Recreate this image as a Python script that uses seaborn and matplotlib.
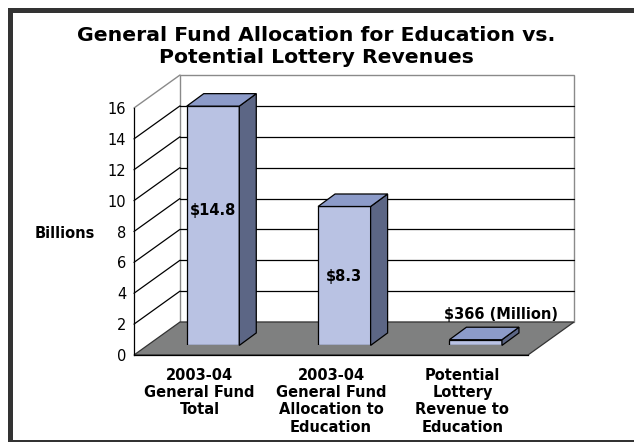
import matplotlib
matplotlib.use("Agg")
import matplotlib.pyplot as plt
import seaborn as sns
from matplotlib.patches import Polygon, Rectangle

# ---------------- data ----------------
categories = ["2003-04\nGeneral Fund\nTotal",
              "2003-04\nGeneral Fund\nAllocation to\nEducation",
              "Potential\nLottery\nRevenue to\nEducation"]
values = [15.5, 9.0, 0.37]          # bar heights as drawn (billions)
value_labels = ["$14.8", "$8.3", "$366 (Million)"]
y_ticks = [0, 2, 4, 6, 8, 10, 12, 14, 16]
title = "General Fund Allocation for Education vs.\nPotential Lottery Revenues"
y_label = "Billions"

# ---------------- style ----------------
sns.set_style("white")
plt.rcParams['font.family'] = ['DejaVu Sans']
plt.rcParams['text.color'] = 'black'
plt.rcParams['axes.labelcolor'] = 'black'
plt.rcParams['xtick.color'] = 'black'
plt.rcParams['ytick.color'] = 'black'

FRONT = '#B9C2E3'
TOP = '#8C9BC9'
SIDE = '#5C6685'
FLOOR = '#7F8080'

W, H = 634, 442
fig = plt.figure(figsize=(W / 100, H / 100), dpi=100)

# front plane of the 3-D box (pixels)
pl, pr, pb, pt = 134, 528, 355, 108
pos = [pl / W, 1 - pb / H, (pr - pl) / W, (pb - pt) / H]
ax = fig.add_axes(pos)
ax.set_xlim(-0.5, 2.5)
ax.set_ylim(0, 16)
ax.patch.set_visible(False)

px_per_x = (pr - pl) / 3
px_per_y = (pb - pt) / 16
DX = 46 / px_per_x
DY = 33 / px_per_y

# back wall
ax.add_patch(Rectangle((-0.5 + DX, DY), 3, 16, facecolor='white',
                       edgecolor='#8a8a8a', lw=1.0, clip_on=False, zorder=0))
for v in y_ticks[1:-1]:
    ax.plot([-0.5 + DX, 2.5 + DX], [v + DY, v + DY], color='black', lw=0.9,
            clip_on=False, zorder=1)
    ax.plot([-0.5, -0.5 + DX], [v, v + DY], color='black', lw=0.9,
            clip_on=False, zorder=1)
ax.plot([-0.5, -0.5 + DX], [16, 16 + DY], color='#8a8a8a', lw=1.0,
        clip_on=False, zorder=1)
# floor
ax.add_patch(Polygon([(-0.5, 0), (2.5, 0), (2.5 + DX, DY), (-0.5 + DX, DY)],
                     closed=True, facecolor=FLOOR, edgecolor='#333333', lw=0.9,
                     clip_on=False, zorder=2))

for s in ['top', 'right']:
    ax.spines[s].set_visible(False)
for s in ['left', 'bottom']:
    ax.spines[s].set_color('black')
    ax.spines[s].set_linewidth(0.9)
    ax.spines[s].set_zorder(3)

ax.set_yticks(y_ticks)
ax.set_yticklabels([str(t) for t in y_ticks])
ax.tick_params(axis='y', direction='out', length=3.6, width=0.9,
               labelsize=10.5, pad=2, colors='black')
ax.set_xticks([0, 1, 2])
ax.set_xticklabels(categories, fontsize=10.5, fontweight='bold',
                   linespacing=1.2, color='black')
ax.tick_params(axis='x', which='major', length=0, pad=9)
ax.set_xticks([-0.5, 0.5, 1.5, 2.5], minor=True)
ax.tick_params(axis='x', which='minor', direction='out', length=4, width=0.9,
               colors='black')

# bars sit part-way into the depth of the box
f0 = 0.29
axb = fig.add_axes([(pl + f0 * 46) / W, 1 - (pb - f0 * 33) / H,
                    (pr - pl) / W, (pb - pt) / H])
axb.patch.set_visible(False)
sns.barplot(x=categories, y=values, ax=axb, color=FRONT, saturation=1,
            width=0.40, edgecolor='black', linewidth=0.9, zorder=3)
axb.set_xlim(-0.5, 2.5)
axb.set_ylim(0, 16)
axb.axis('off')

ddx, ddy = 17 / px_per_x, 12.5 / px_per_y
for p in axb.patches[:len(values)]:
    x0, w, h = p.get_x(), p.get_width(), p.get_height()
    x1 = x0 + w
    axb.add_patch(Polygon([(x1, 0), (x1, h), (x1 + ddx, h + ddy), (x1 + ddx, ddy)],
                          closed=True, facecolor=SIDE, edgecolor='black',
                          lw=0.9, zorder=3, clip_on=False))
    axb.add_patch(Polygon([(x0, h), (x1, h), (x1 + ddx, h + ddy), (x0 + ddx, h + ddy)],
                          closed=True, facecolor=TOP, edgecolor='black',
                          lw=0.9, zorder=3, clip_on=False))

label_offsets = [(0.0, 1.0), (0.0, -0.05), (0.19, 1.8)]
for p, lab, (ox, oy) in zip(axb.patches[:len(values)], value_labels, label_offsets):
    cx = p.get_x() + p.get_width() / 2
    axb.text(cx + ox, p.get_height() / 2 + oy, lab, ha='center', va='center',
             fontsize=10.5, fontweight='bold', color='black', zorder=5,
             clip_on=False)

# titles and axis label
fig.text(316 / W, 1 - 26 / H, title, ha='center', va='top', fontsize=14.7,
         fontweight='bold', linespacing=1.2, color='black')
fig.text(65 / W, 1 - 233 / H, y_label, ha='center', va='center',
         fontsize=10.5, fontweight='bold', color='black')

# outer frame
fig.add_artist(Rectangle((9.5 / W, 1 - 441.5 / H), (700 - 9.5) / W,
                         (441.5 - 9.5) / H, transform=fig.transFigure,
                         fill=False, edgecolor='#333333', lw=3.6,
                         clip_on=False))

fig.savefig("out.png", dpi=100)
